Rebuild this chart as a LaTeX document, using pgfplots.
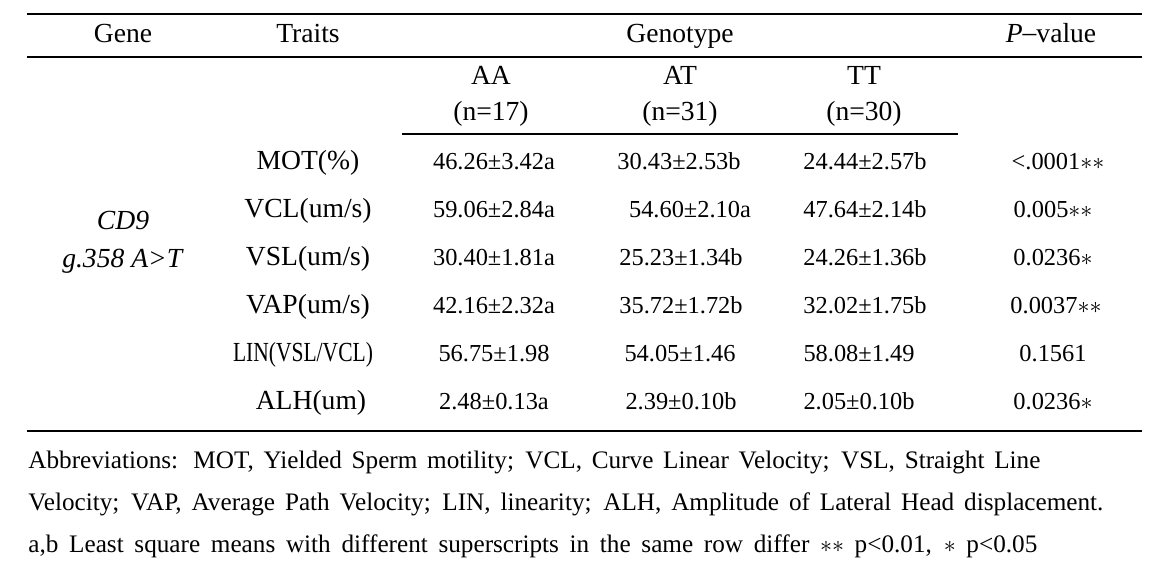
\documentclass[border=0pt]{standalone}
\usepackage{pgfplots}
\pgfplotsset{compat=1.18}
\usepackage{fontspec}
\setmainfont{Liberation Serif}
\newcommand{\tlab}{\fontsize{13.8}{16}\selectfont}
\newcommand{\tnum}{\fontsize{12.2}{14}\selectfont}
\newcommand{\tfn}{\fontsize{12.6}{14}\selectfont}
\begin{document}
\begin{tikzpicture}
\begin{axis}[
  hide axis, scale only axis, width=576.5pt, height=288pt,
  xmin=0, xmax=1153, ymin=0, ymax=576, y dir=reverse, clip=false,
]
\path (axis cs:0,0) (axis cs:1153,576);
% rules
\draw[line width=0.7pt] (axis cs:27,14) -- (axis cs:1142,14);
\draw[line width=0.7pt] (axis cs:27,57) -- (axis cs:1142,57);
\draw[line width=0.7pt] (axis cs:402,134) -- (axis cs:958,134);
\draw[line width=0.7pt] (axis cs:27,431) -- (axis cs:1142,431);
\begin{scope}[every node/.style={inner sep=0pt, anchor=base, font=\tlab}]
% header
\node at (axis cs:123,43) {Gene};
\node at (axis cs:308,43) {Traits};
\node at (axis cs:680,43) {Genotype};
\node at (axis cs:1051,43) {\textit{P}\raisebox{0.15ex}{–}value};
\node at (axis cs:491,85) {AA};
\node at (axis cs:680,85) {AT};
\node at (axis cs:864,85) {TT};
\node at (axis cs:491,121) {(n=17)};
\node at (axis cs:680,121) {(n=31)};
\node at (axis cs:864,121) {(n=30)};
% gene
\node at (axis cs:123,230) {\textit{CD9}};
\node at (axis cs:123,268) {\textit{g.358 A>T}};
% traits
\node at (axis cs:308,169.5) {MOT(\%)};
\node at (axis cs:308,217.5) {VCL(um/s)};
\node at (axis cs:308,265.5) {VSL(um/s)};
\node at (axis cs:308,313.5) {VAP(um/s)};
\node at (axis cs:303,361.5) {\scalebox{0.78}[1]{LIN(VSL/VCL)}};
\node at (axis cs:311,409.5) {ALH(um)};
\end{scope}
\begin{scope}[every node/.style={inner sep=0pt, anchor=base, font=\tnum}]
% AA
\node at (axis cs:494,169.5) {46.26±3.42a};
\node at (axis cs:494,217.5) {59.06±2.84a};
\node at (axis cs:494,265.5) {30.40±1.81a};
\node at (axis cs:494,313.5) {42.16±2.32a};
\node at (axis cs:494,361.5) {56.75±1.98};
\node at (axis cs:494,409.5) {2.48±0.13a};
% AT
\node at (axis cs:679,169.5) {30.43±2.53b};
\node at (axis cs:690,217.5) {54.60±2.10a};
\node at (axis cs:681,265.5) {25.23±1.34b};
\node at (axis cs:681,313.5) {35.72±1.72b};
\node at (axis cs:680,361.5) {54.05±1.46};
\node at (axis cs:681,409.5) {2.39±0.10b};
% TT
\node at (axis cs:865,169.5) {24.44±2.57b};
\node at (axis cs:865,217.5) {47.64±2.14b};
\node at (axis cs:865,265.5) {24.26±1.36b};
\node at (axis cs:865,313.5) {32.02±1.75b};
\node at (axis cs:859,361.5) {58.08±1.49};
\node at (axis cs:859,409.5) {2.05±0.10b};
% P
\node at (axis cs:1058,169.5) {<.0001$**$};
\node at (axis cs:1053,217.5) {0.005$**$};
\node at (axis cs:1053,265.5) {0.0236$*$};
\node at (axis cs:1056,313.5) {0.0037$**$};
\node at (axis cs:1053,361.5) {0.1561};
\node at (axis cs:1053,409.5) {0.0236$*$};
\end{scope}
\begin{scope}[every node/.style={inner sep=0pt, anchor=base west, font=\tfn}]
\node at (axis cs:28,469) {\makebox[506pt][s]{Abbreviations: MOT, Yielded Sperm motility; VCL, Curve Linear Velocity; VSL, Straight Line}};
\node at (axis cs:28,511) {\makebox[537.5pt][s]{Velocity; VAP, Average Path Velocity; LIN, linearity; ALH, Amplitude of Lateral Head displacement.}};
\node at (axis cs:28,553) {\makebox[504.5pt][s]{a,b Least square means with different superscripts in the same row differ $**$ p<0.01, $*$ p<0.05}};
\end{scope}
\end{axis}
\end{tikzpicture}
\end{document}
